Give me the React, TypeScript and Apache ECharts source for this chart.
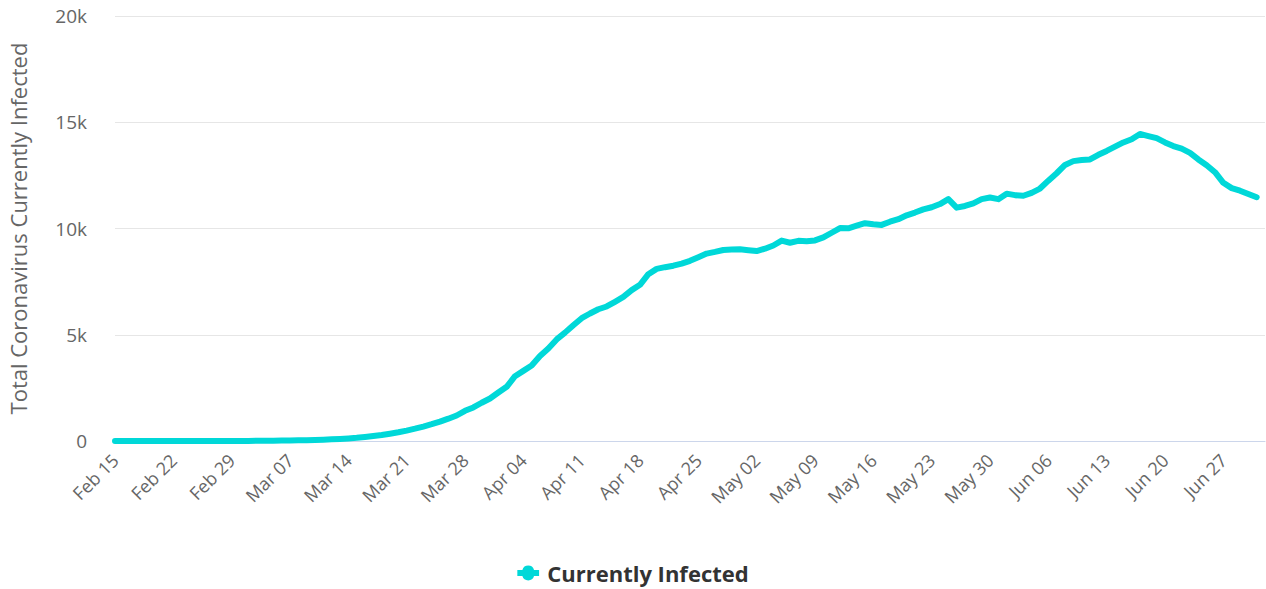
import React, { useEffect, useRef } from "react";
import * as echarts from "echarts";

const START_DATE = Date.UTC(2020, 1, 15);
const MONTHS = ["Jan", "Feb", "Mar", "Apr", "May", "Jun", "Jul", "Aug", "Sep", "Oct", "Nov", "Dec"];

const currentlyInfected = [
  0, 0, 0, 0, 0, 0, 0, 0, 0, 0, 0, 0, 0, 0, 0,
  3, 5, 8, 12, 16, 20, 25, 32, 40, 50, 62, 78, 95,
  120, 150, 190, 235, 285, 345, 410,
  490, 580, 680, 790, 910, 1050, 1200,
  1420, 1580, 1800, 2000, 2280, 2550, 3050,
  3300, 3550, 4000, 4350, 4780, 5100, 5450,
  5780, 6000, 6200, 6330, 6550, 6780, 7100,
  7350, 7850, 8100, 8180, 8250, 8350, 8480,
  8650, 8820, 8900, 8990, 9010, 9020, 8980,
  8940, 9050, 9200, 9430, 9330, 9420, 9400,
  9440, 9580, 9800, 10020, 10010, 10130, 10250,
  10200, 10170, 10320, 10440, 10620, 10750, 10900,
  11000, 11150, 11380, 10980, 11060, 11180, 11380,
  11460, 11380, 11640, 11570, 11540, 11680, 11880,
  12250, 12600, 12990, 13170, 13220, 13250, 13470,
  13650, 13850, 14050, 14200, 14450, 14350, 14250,
  14050, 13880, 13760, 13560, 13250, 12980, 12650,
  12150, 11900, 11780, 11620, 11470,
];

const dateLabels = currentlyInfected.map((_, i) => {
  const d = new Date(START_DATE + i * 86400000);
  return MONTHS[d.getUTCMonth()] + " " + String(d.getUTCDate()).padStart(2, "0");
});

const yTickLabels = ["0", "5k", "10k", "15k", "20k"];

const FONT = "'Open Sans', sans-serif";

export default function App() {
  const ref = useRef<HTMLDivElement>(null);
  useEffect(() => {
    if (!ref.current) return;
    const chart = echarts.init(ref.current, null, { renderer: "svg" });
    chart.setOption({
      animation: false,
      textStyle: { fontFamily: FONT },
      grid: {
        left: 115,
        right: 1,
        top: 16,
        bottom: 148,
        containLabel: false,
        outerBoundsMode: "none",
      },
      xAxis: {
        type: "value",
        min: 0,
        max: 138,
        interval: 7,
        axisLine: { show: true, lineStyle: { color: "#ccd6eb", width: 1 } },
        axisTick: { show: false },
        splitLine: { show: false },
        axisLabel: {
          rotate: 45,
          showMaxLabel: false,
          margin: 16,
          color: "#666666",
          fontSize: 18,
          fontFamily: FONT,
          formatter: (v: number) => {
            const d = new Date(START_DATE + Math.round(v) * 86400000);
            return MONTHS[d.getUTCMonth()] + " " + String(d.getUTCDate()).padStart(2, "0");
          },
        },
      },
      yAxis: {
        type: "value",
        min: 0,
        max: 20000,
        interval: 5000,
        name: "Total Coronavirus Currently Infected",
        nameLocation: "middle",
        nameGap: 86,
        nameRotate: 90,
        nameTextStyle: { color: "#666666", fontSize: 22, fontFamily: FONT },
        axisLine: { show: false },
        axisTick: { show: false },
        splitLine: { show: true, lineStyle: { color: "#e6e6e6", width: 1 } },
        axisLabel: {
          margin: 28,
          color: "#666666",
          fontSize: 19,
          fontFamily: FONT,
          formatter: (v: number) => yTickLabels[Math.round(v / 5000)] ?? "",
        },
      },
      legend: {
        show: true,
        left: "center",
        top: 557,
        itemWidth: 28,
        itemHeight: 15,
        itemGap: 10,
        icon: "path://M0,3.5H6.5A7.8,7.8,0,0,1,21.5,3.5H28V11.5H21.5A7.8,7.8,0,0,1,6.5,11.5H0Z",
        textStyle: { color: "#333333", fontSize: 22, fontWeight: "bold", fontFamily: FONT },
        data: ["Currently Infected"],
      },
      tooltip: { show: false },
      series: [
        {
          name: "Currently Infected",
          type: "line",
          data: currentlyInfected.map((v, i) => [i, v, dateLabels[i]]),
          showSymbol: false,
          symbol: "circle",
          lineStyle: { color: "#00d8d8", width: 6, cap: "round", join: "round" },
          itemStyle: { color: "#00d8d8" },
        },
      ],
    });
    return () => chart.dispose();
  }, []);
  return (
    <div
      ref={ref}
      style={{ position: "absolute", left: 0, top: 0, width: 1266, height: 589, background: "#fff" }}
    />
  );
}
